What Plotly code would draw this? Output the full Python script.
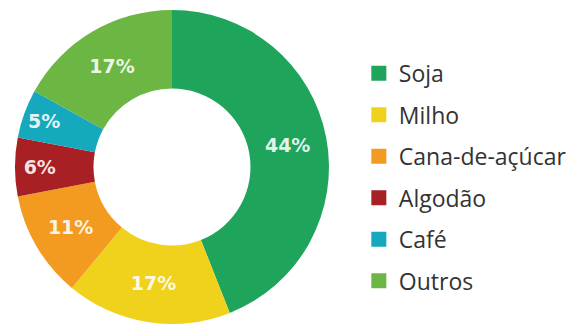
import plotly.graph_objects as go

labels = ["Soja", "Milho", "Cana-de-açúcar", "Algodão", "Café", "Outros"]
values = [44, 17, 11, 6, 5, 17]
colors = ["#1fa45c", "#f0d21c", "#f39b20", "#a81f24", "#16a8bd", "#6cb644"]

W, H = 572, 324

fig = go.Figure()
fig.add_trace(go.Pie(
    labels=labels, values=values, sort=False, direction="clockwise", rotation=0,
    hole=0.5, marker=dict(colors=colors, line=dict(width=0)),
    texttemplate="<b>%{value}%</b>", textposition="inside", insidetextorientation="horizontal",
    textfont=dict(color="rgba(255,255,255,0.88)", size=19, family="DejaVu Sans"),
    showlegend=False, domain=dict(x=[15 / W, 332 / W], y=[0, 1]),
))
for lab, col in zip(labels, colors):
    fig.add_trace(go.Scatter(
        x=[None], y=[None], mode="markers", name=lab, legendgroup=lab,
        marker=dict(symbol="square", size=15, color=col),
    ))

fig.update_layout(
    width=W, height=H, margin=dict(l=0, r=0, t=10, b=0),
    paper_bgcolor="white", plot_bgcolor="white",
    xaxis=dict(visible=False), yaxis=dict(visible=False),
    legend=dict(x=362 / W, y=0.867, xanchor="left", yanchor="top",
                font=dict(size=23, color="#333333", family="Open Sans"),
                tracegroupgap=8.6, itemclick=False, bgcolor="rgba(0,0,0,0)"),
)
fig.write_html("out.html")
